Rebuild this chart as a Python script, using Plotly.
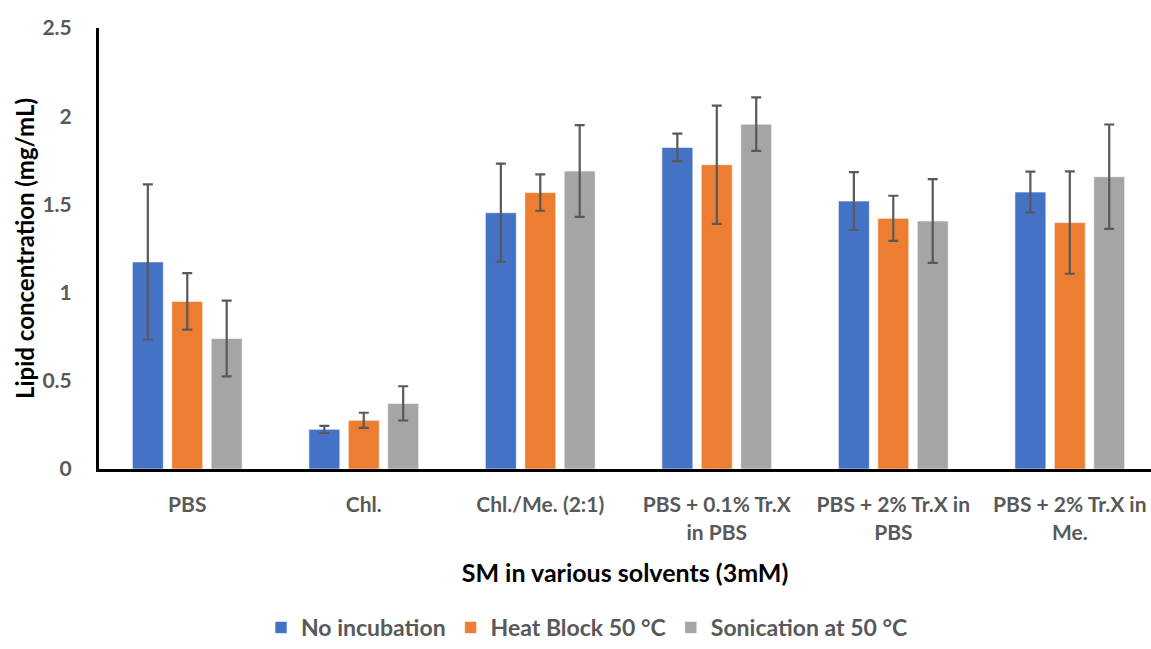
import plotly.graph_objects as go

categories = ["PBS", "Chl.", "Chl./Me. (2:1)", "PBS + 0.1% Tr.X<br>in PBS",
              "PBS + 2% Tr.X in<br>PBS", "PBS + 2% Tr.X in<br>Me."]

no_incubation = [1.174, 0.225, 1.453, 1.823, 1.519, 1.570]
no_incubation_err = [0.44, 0.02, 0.278, 0.078, 0.164, 0.116]

heat_block = [0.95, 0.276, 1.567, 1.725, 1.421, 1.397]
heat_block_err = [0.16, 0.043, 0.103, 0.335, 0.128, 0.29]

sonication = [0.74, 0.372, 1.689, 1.955, 1.406, 1.657]
sonication_err = [0.215, 0.097, 0.26, 0.152, 0.237, 0.296]

series = [
    ("No incubation", no_incubation, no_incubation_err, "#4472C4"),
    ("Heat Block 50 °C", heat_block, heat_block_err, "#ED7D31"),
    ("Sonication at 50 °C", sonication, sonication_err, "#A5A5A5"),
]

FONT = "Lato"
fig = go.Figure()
for name, vals, errs, color in series:
    fig.add_trace(go.Bar(
        name=name, x=categories, y=vals,
        marker=dict(color=color, line=dict(color="rgba(255,255,255,0.6)", width=1)),
        error_y=dict(type="data", array=errs, visible=True,
                     color="#595959", thickness=2.2, width=5),
    ))

fig.update_layout(
    width=1151, height=649,
    margin=dict(l=99, r=0, t=28, b=180, autoexpand=False),
    paper_bgcolor="white", plot_bgcolor="white",
    barmode="group", bargap=0.33, bargroupgap=0.215,
    font=dict(family=FONT, color="#595959"),
    showlegend=True,
    legend=dict(orientation="h", xref="container", yref="container",
                x=0.51, xanchor="center", y=-0.008, yanchor="bottom",
                font=dict(family=FONT, size=23, color="#595959", weight="bold"),
                itemwidth=30, traceorder="normal"),
    xaxis=dict(
        range=[-0.5, 5.46], showline=True, linecolor="black", linewidth=3,
        ticks="", showgrid=False, zeroline=False, ticklabelstandoff=15,
        automargin=False,
        tickfont=dict(family=FONT, size=21, color="#595959", weight="bold"),
        title=dict(text="SM in various solvents (3mM)", standoff=22,
                   font=dict(family=FONT, size=25, color="black", weight="bold")),
    ),
    yaxis=dict(
        range=[0, 2.5], dtick=0.5, showline=True, linecolor="black", linewidth=3,
        ticks="", showgrid=False, zeroline=False, ticklabelstandoff=20,
        automargin=False,
        tickfont=dict(family=FONT, size=21, color="#595959", weight="bold"),
        title=dict(text="Lipid concentration (mg/mL)", standoff=2,
                   font=dict(family=FONT, size=24, color="black", weight="bold")),
    ),
)

fig.write_html("out.html")
